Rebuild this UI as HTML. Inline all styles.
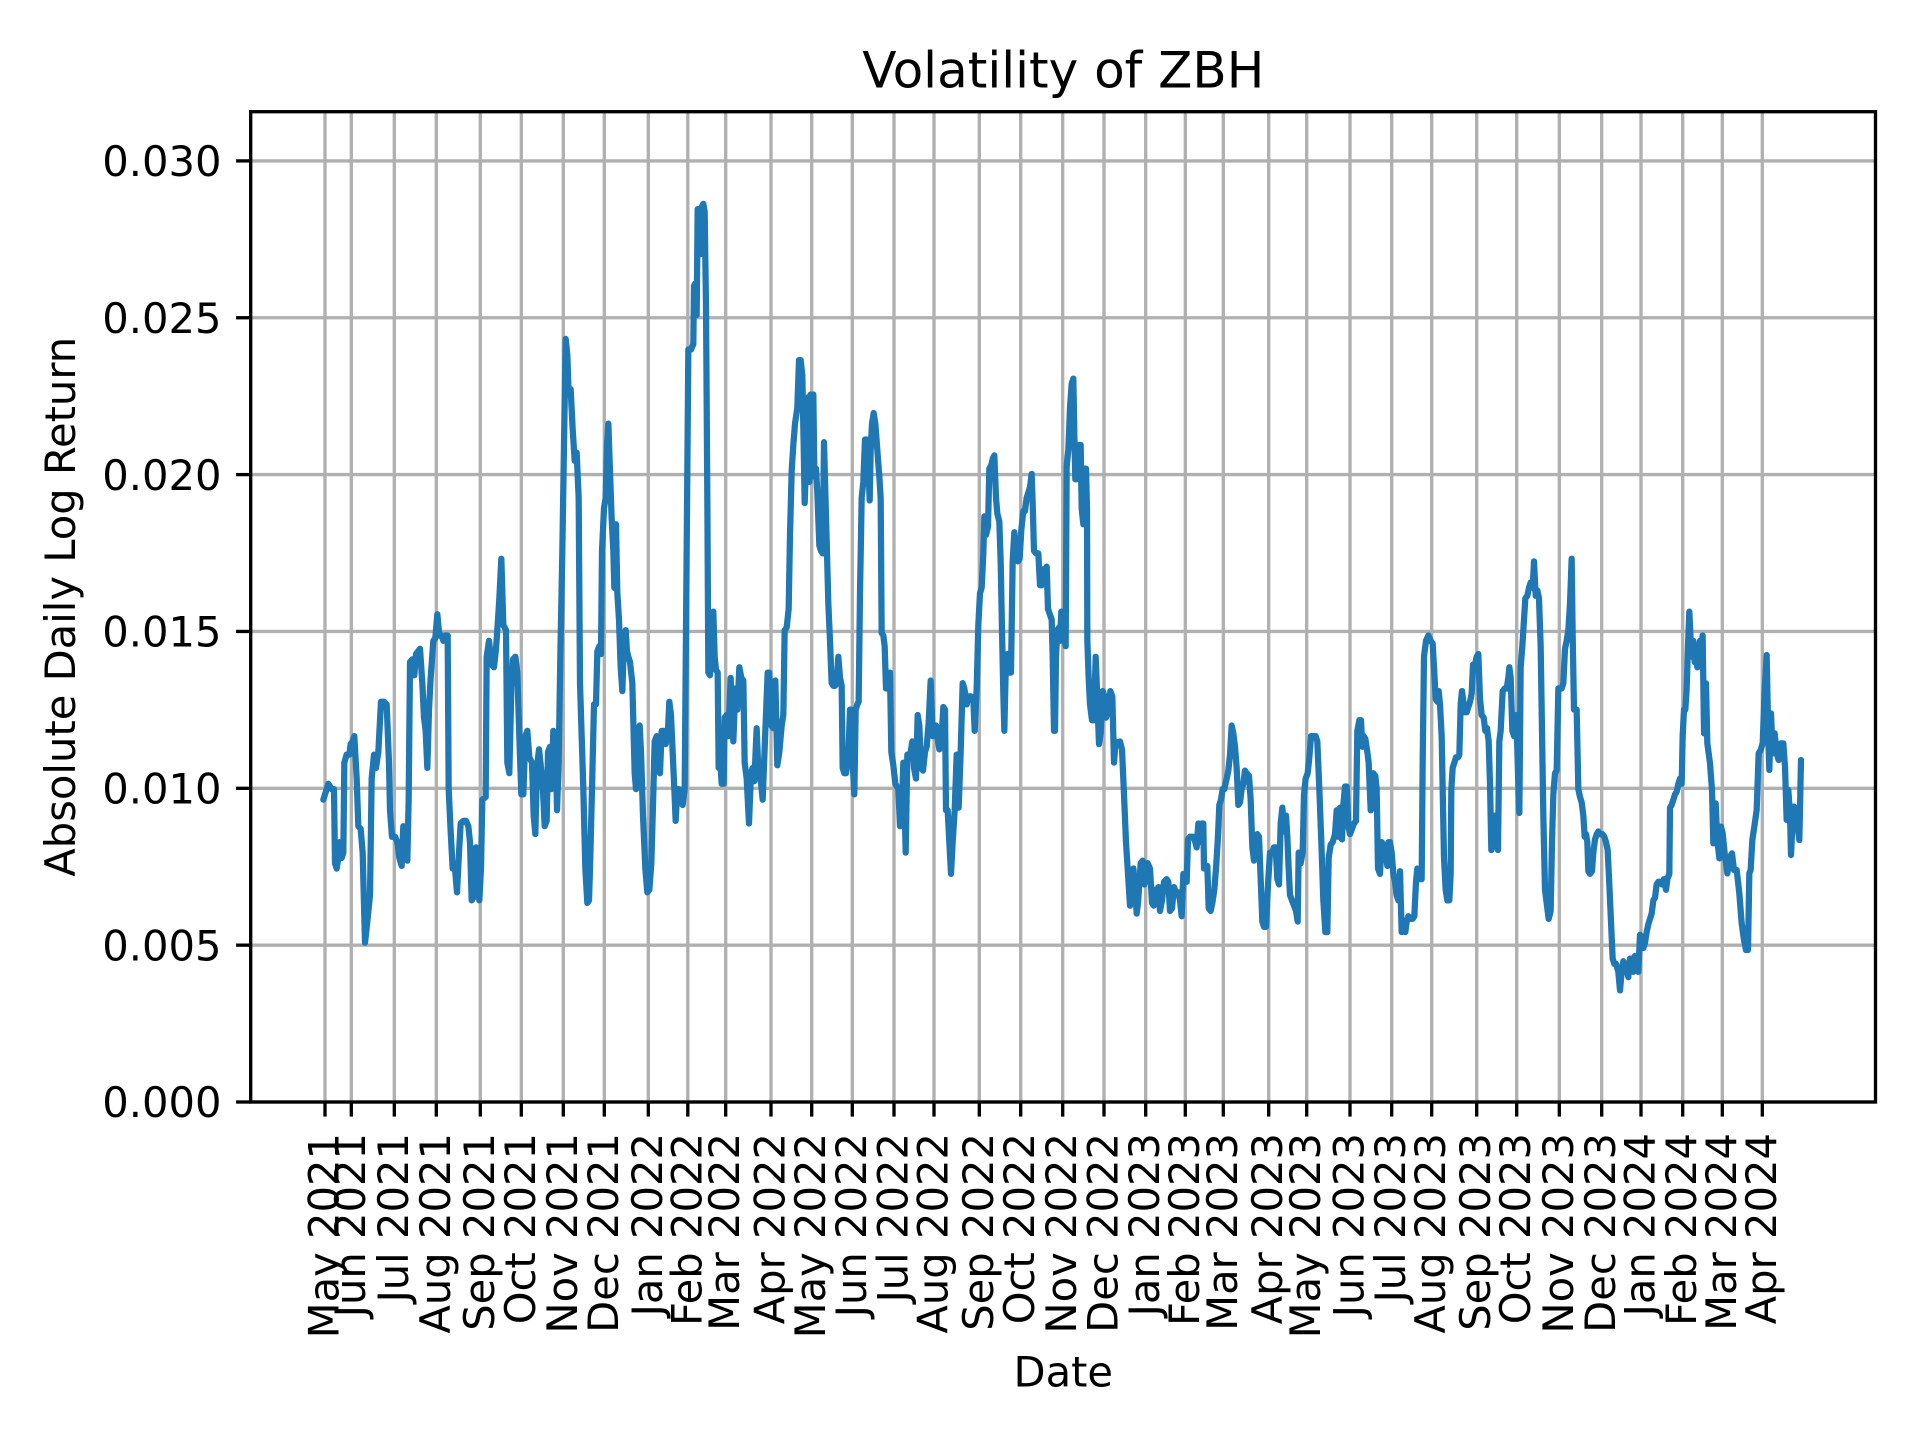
<!DOCTYPE html>
<html>
<head>
<meta charset="utf-8">
<style>
html,body{margin:0;padding:0;background:#fff;}
svg{display:block;}
text{font-family:"DejaVu Sans","Liberation Sans",sans-serif;fill:#000;}
.tl{font-size:41.67px;}
</style>
</head>
<body>
<svg width="1920" height="1440" viewBox="0 0 1920 1440" xmlns="http://www.w3.org/2000/svg">
<rect width="1920" height="1440" fill="#fff"/>

<!-- grid -->
<g stroke="#b0b0b0" stroke-width="3.33" fill="none">
<line x1="325" y1="111.7" x2="325" y2="1102"/>
<line x1="351.3" y1="111.7" x2="351.3" y2="1102"/>
<line x1="394.3" y1="111.7" x2="394.3" y2="1102"/>
<line x1="436.3" y1="111.7" x2="436.3" y2="1102"/>
<line x1="480.3" y1="111.7" x2="480.3" y2="1102"/>
<line x1="521.3" y1="111.7" x2="521.3" y2="1102"/>
<line x1="563.3" y1="111.7" x2="563.3" y2="1102"/>
<line x1="604.3" y1="111.7" x2="604.3" y2="1102"/>
<line x1="648.3" y1="111.7" x2="648.3" y2="1102"/>
<line x1="687.8" y1="111.7" x2="687.8" y2="1102"/>
<line x1="725.7" y1="111.7" x2="725.7" y2="1102"/>
<line x1="771" y1="111.7" x2="771" y2="1102"/>
<line x1="811.7" y1="111.7" x2="811.7" y2="1102"/>
<line x1="852.3" y1="111.7" x2="852.3" y2="1102"/>
<line x1="894" y1="111.7" x2="894" y2="1102"/>
<line x1="934" y1="111.7" x2="934" y2="1102"/>
<line x1="979.3" y1="111.7" x2="979.3" y2="1102"/>
<line x1="1020.7" y1="111.7" x2="1020.7" y2="1102"/>
<line x1="1062.7" y1="111.7" x2="1062.7" y2="1102"/>
<line x1="1104" y1="111.7" x2="1104" y2="1102"/>
<line x1="1145.7" y1="111.7" x2="1145.7" y2="1102"/>
<line x1="1185.3" y1="111.7" x2="1185.3" y2="1102"/>
<line x1="1223.3" y1="111.7" x2="1223.3" y2="1102"/>
<line x1="1268.7" y1="111.7" x2="1268.7" y2="1102"/>
<line x1="1306.7" y1="111.7" x2="1306.7" y2="1102"/>
<line x1="1350" y1="111.7" x2="1350" y2="1102"/>
<line x1="1391.7" y1="111.7" x2="1391.7" y2="1102"/>
<line x1="1431.7" y1="111.7" x2="1431.7" y2="1102"/>
<line x1="1476.7" y1="111.7" x2="1476.7" y2="1102"/>
<line x1="1516.7" y1="111.7" x2="1516.7" y2="1102"/>
<line x1="1559.3" y1="111.7" x2="1559.3" y2="1102"/>
<line x1="1601.7" y1="111.7" x2="1601.7" y2="1102"/>
<line x1="1641" y1="111.7" x2="1641" y2="1102"/>
<line x1="1682.7" y1="111.7" x2="1682.7" y2="1102"/>
<line x1="1722.3" y1="111.7" x2="1722.3" y2="1102"/>
<line x1="1762.3" y1="111.7" x2="1762.3" y2="1102"/>
<line x1="250.7" y1="1102" x2="1875.5" y2="1102"/>
<line x1="250.7" y1="945.15" x2="1875.5" y2="945.15"/>
<line x1="250.7" y1="788.3" x2="1875.5" y2="788.3"/>
<line x1="250.7" y1="631.45" x2="1875.5" y2="631.45"/>
<line x1="250.7" y1="474.6" x2="1875.5" y2="474.6"/>
<line x1="250.7" y1="317.75" x2="1875.5" y2="317.75"/>
<line x1="250.7" y1="160.9" x2="1875.5" y2="160.9"/>
</g>

<!-- data line -->
<g fill="none" stroke="#1f77b4" stroke-width="6.25" stroke-linejoin="round" stroke-linecap="round">
<g transform="translate(310,180) scale(0.333333,0.52966)">
<polyline vector-effect="non-scaling-stroke" points="40,1170 55,1140 65,1150 72,1150 75,1290 80,1300 85,1280 90,1250 95,1280 100,1270 103,1100 110,1085 118,1085 122,1065 128,1060 133,1050 140,1130 145,1220 152,1225 158,1270 165,1440 172,1400 180,1350 185,1130 192,1085 198,1110 205,1080 213,985 222,985 230,990 237,1100 240,1190 246,1240 255,1240 262,1250 268,1280 275,1295 280,1220 285,1280 292,1285 296,1170 300,910 307,905 313,935 318,895 324,890 330,885 337,950 342,1015 347,1040 352,1110 357,1000 362,940 370,870 376,865 382,820 388,860 395,860 400,870 406,860 413,860 416,1150 422,1230 428,1300 435,1300 441,1345 447,1270 452,1215 460,1210 468,1210 475,1220 480,1250 485,1360 490,1355 493,1270 498,1260 503,1300 508,1360 513,1300 517,1170 527,1165 530,900 537,870 545,915 552,920 558,885 564,830 568,790 574,715 580,840 588,850 592,1100 598,1120 604,960 609,905 616,900 622,930 628,1050 634,1160 640,1160 646,1050 652,1040 658,1090 666,1100 671,1200 676,1235 681,1110 687,1075 693,1110 698,1140 704,1220 710,1210 714,1080 720,1070 724,1150 730,1040 737,1050 741,1190 746,1100 751,900 757,700 762,500 767,300 772,330 776,405 782,395 788,470 794,530 800,515 806,600 810,950 815,1050 820,1150 826,1300 832,1365 837,1360 840,1300 846,1150 852,990 858,990 862,890 868,880 873,895 876,700 882,620 887,600 891,500 895,460 900,550 905,640 910,700 913,770 918,650 922,780 927,830 932,920 937,965 942,870 947,850 951,890 955,900 960,910 967,950 974,1120 978,1150 983,1100 989,1030 993,1080 999,1200 1006,1300 1012,1345 1018,1340 1024,1290 1029,1180 1034,1060 1040,1050 1045,1080 1050,1120 1055,1040 1060,1040 1067,1065 1073,1050 1078,985 1083,1010 1088,1080 1093,1150 1097,1210 1102,1150 1107,1150 1110,1170"/>
</g>
<g transform="translate(680,180) scale(0.333333,0.52966)">
<polyline vector-effect="non-scaling-stroke" points="0,1170 8,1180 14,1150 20,700 25,320 33,320 40,310 42,200 46,195 50,255 53,55 58,55 62,140 66,50 70,45 74,60 78,240 82,600 85,930 90,935 95,870 100,815 104,900 108,925 113,930 116,1110 120,1090 125,1140 131,1140 134,1015 140,1010 145,1050 152,940 156,1000 160,1060 166,960 172,1000 178,920 184,940 190,945 194,1100 200,1130 207,1215 213,1120 218,1110 223,1135 230,1035 236,1130 242,1130 248,1170 256,1040 263,930 268,930 274,1030 280,1035 286,945 292,1105 298,1080 305,1030 310,1010 314,850 320,845 326,810 330,670 335,550 340,500 345,460 352,430 357,340 362,340 367,370 371,500 374,610 378,540 381,420 385,410 388,570 392,405 396,560 400,405 403,550 408,545 412,590 418,690 423,700 428,705 432,495 436,590 440,680 445,800 450,870 455,950 460,955 465,955 470,950 475,900 480,940 485,955 488,1110 493,1120 498,1120 505,1090 510,1000 514,1000 518,1100 523,1160 527,1000 532,990 536,985 540,780 545,600 550,570 555,490 560,490 564,520 569,605 572,510 576,460 581,440 586,460 592,510 598,560 602,600 605,855 610,860 614,880 618,960 624,960 630,930 634,1080 640,1105 646,1140 655,1150 660,1220 664,1215 670,1100 675,1210 677,1270 682,1085 687,1085 692,1080 697,1060 702,1110 708,1130 713,1010 718,1030 723,1110 729,1115 735,1080 740,1070 746,1025 752,945 758,1050 762,1040 768,1030 773,1055 778,1075 784,1060 790,995 795,1000 798,1190 803,1190 808,1250 813,1310 818,1250 824,1190 830,1085 836,1185 842,1080 848,950 853,960 860,990 866,975 873,975 880,980 884,1040 890,960 895,840 900,780 905,770 910,705 913,635 918,670 924,655 928,545 933,540 939,525 943,520 948,600 952,630 958,645 962,720 966,850 970,970 973,1040 978,900 983,895 987,930 993,930 998,720 1003,665 1008,700 1014,720 1019,715 1024,660 1030,625 1035,625 1040,600 1045,590 1050,580 1055,555 1058,610 1062,700 1068,705 1075,705 1080,765 1085,765 1090,735 1095,735 1100,730 1104,810"/>
</g>
<g transform="translate(1050,180) scale(0.333333,0.52966)">
<polyline vector-effect="non-scaling-stroke" points="-6,810 5,830 8,900 12,1040 15,1040 18,900 22,850 27,845 30,870 34,815 38,820 42,860 47,880 50,540 55,510 60,430 65,385 70,375 73,480 76,565 80,565 84,520 88,500 92,500 95,620 100,650 104,545 108,545 111,620 112,870 116,940 120,990 126,1020 132,1020 137,900 142,980 147,1065 152,1045 158,965 163,975 168,1015 175,1000 181,965 187,975 192,1100 197,1060 203,1065 210,1060 216,1075 222,1160 228,1250 235,1320 240,1370 245,1360 250,1300 255,1330 260,1385 264,1365 268,1330 272,1290 278,1285 283,1330 288,1320 293,1290 300,1300 306,1365 311,1370 316,1340 320,1345 325,1335 330,1380 336,1360 342,1325 350,1320 355,1325 360,1380 366,1375 372,1335 378,1345 385,1345 390,1360 395,1390 400,1310 406,1310 410,1325 414,1245 420,1240 425,1240 430,1240 436,1250 440,1260 445,1215 450,1250 455,1215 460,1215 462,1300 466,1300 472,1295 476,1375 482,1380 487,1365 493,1340 498,1300 503,1250 508,1180 513,1170 518,1150 523,1150 530,1130 535,1115 540,1085 545,1030 550,1045 555,1070 560,1110 565,1180 570,1175 575,1150 580,1140 585,1115 590,1120 597,1125 602,1170 607,1260 612,1285 617,1280 622,1235 627,1240 632,1320 637,1400 642,1410 648,1410 654,1330 660,1270 666,1270 672,1260 677,1260 682,1320 687,1330 692,1215 697,1185 702,1230 708,1200 712,1240 716,1300 720,1350 726,1360 732,1370 738,1380 743,1400 746,1270 752,1290 758,1270 762,1160 767,1130 773,1120 778,1090 783,1050 790,1050 797,1050 802,1060 808,1150 814,1250 820,1360 826,1420 832,1420 836,1280 842,1255 848,1250 855,1235 860,1190 865,1240 870,1185 876,1245 880,1180 885,1145 890,1145 895,1220 900,1235 906,1225 912,1215 918,1210 922,1040 928,1020 933,1020 937,1070 941,1050 946,1055 952,1080 956,1100 962,1190 966,1185 970,1120 976,1125 980,1150 984,1300 990,1310 995,1250 1000,1255 1006,1265 1012,1295 1016,1250 1020,1250 1025,1270 1030,1310 1035,1325 1040,1350 1045,1360 1050,1305 1055,1420 1060,1415 1066,1420 1070,1400 1075,1390 1082,1395 1088,1395 1093,1390 1098,1325 1102,1300 1108,1320 1110,1320"/>
</g>
<g transform="translate(1420,180) scale(0.333333,0.52966)">
<polyline vector-effect="non-scaling-stroke" points="0,1320 5,1320 8,1100 12,900 18,870 25,860 32,870 38,875 42,920 47,980 52,985 56,965 60,990 65,1050 68,1150 72,1280 77,1340 82,1360 88,1360 92,1310 94,1150 98,1110 103,1100 108,1090 114,1090 118,1085 122,990 126,965 130,985 135,1005 140,1005 145,995 150,985 155,970 159,915 165,915 170,900 175,895 180,980 185,1010 191,1015 196,1040 201,1035 206,1060 210,1140 214,1265 220,1250 224,1200 230,1210 234,1265 238,1060 242,1040 248,965 254,960 260,960 265,940 268,920 272,940 277,1040 282,1050 286,1010 290,1030 294,1120 298,1195 302,920 307,880 312,830 316,790 322,785 327,770 332,760 338,770 342,720 347,785 352,775 357,790 362,880 365,1000 370,1200 375,1340 380,1365 386,1395 392,1380 396,1250 400,1160 405,1120 410,1115 415,960 420,960 425,960 430,950 435,885 440,870 445,850 450,800 455,715 458,860 462,1000 466,1000 470,1000 475,1150 480,1165 485,1175 490,1200 494,1240 498,1235 502,1250 505,1305 510,1310 516,1305 520,1270 525,1245 530,1235 535,1230 540,1235 547,1235 553,1240 558,1250 563,1265 568,1330 573,1400 578,1470 583,1480 588,1480 595,1495 600,1530 605,1495 610,1475 615,1480 620,1490 625,1505 630,1470 635,1470 640,1495 645,1465 650,1475 655,1495 660,1425 666,1430 670,1450 675,1440 680,1420 685,1405 690,1395 695,1385 700,1360 705,1355 710,1330 715,1325 720,1325 726,1330 732,1320 738,1340 742,1320 748,1310 750,1185 755,1180 760,1170 765,1160 770,1155 775,1140 780,1130 785,1140 788,1050 792,1000 796,1000 800,960 804,880 808,815 812,870 816,900 820,870 824,910 828,900 832,920 836,890 840,870 844,900 848,860 852,1040"/>
</g>
<g transform="translate(1690,640) scale(0.333333,0.333333)">
<polyline vector-effect="non-scaling-stroke" points="42,280 48,130 52,310 60,370 66,450 70,610 77,490 82,600 88,655 93,560 98,580 104,640 112,700 120,650 126,640 132,690 140,690 148,760 155,850 162,900 168,930 174,930 178,700 182,690 187,600 193,560 200,510 206,340 212,330 218,310 224,150 230,45 235,300 238,390 243,220 248,340 254,280 260,340 266,360 272,310 280,310 285,380 290,540 295,450 300,520 303,645 307,560 312,500 318,510 323,560 328,600 333,360"/>
</g>
</g>

<!-- spines -->
<rect x="250.7" y="111.7" width="1624.8" height="990.3" fill="none" stroke="#000" stroke-width="3.33" stroke-linejoin="miter"/>

<!-- ticks -->
<g stroke="#000" stroke-width="3.33">
<line x1="325" y1="1102" x2="325" y2="1116.6"/>
<line x1="351.3" y1="1102" x2="351.3" y2="1116.6"/>
<line x1="394.3" y1="1102" x2="394.3" y2="1116.6"/>
<line x1="436.3" y1="1102" x2="436.3" y2="1116.6"/>
<line x1="480.3" y1="1102" x2="480.3" y2="1116.6"/>
<line x1="521.3" y1="1102" x2="521.3" y2="1116.6"/>
<line x1="563.3" y1="1102" x2="563.3" y2="1116.6"/>
<line x1="604.3" y1="1102" x2="604.3" y2="1116.6"/>
<line x1="648.3" y1="1102" x2="648.3" y2="1116.6"/>
<line x1="687.8" y1="1102" x2="687.8" y2="1116.6"/>
<line x1="725.7" y1="1102" x2="725.7" y2="1116.6"/>
<line x1="771" y1="1102" x2="771" y2="1116.6"/>
<line x1="811.7" y1="1102" x2="811.7" y2="1116.6"/>
<line x1="852.3" y1="1102" x2="852.3" y2="1116.6"/>
<line x1="894" y1="1102" x2="894" y2="1116.6"/>
<line x1="934" y1="1102" x2="934" y2="1116.6"/>
<line x1="979.3" y1="1102" x2="979.3" y2="1116.6"/>
<line x1="1020.7" y1="1102" x2="1020.7" y2="1116.6"/>
<line x1="1062.7" y1="1102" x2="1062.7" y2="1116.6"/>
<line x1="1104" y1="1102" x2="1104" y2="1116.6"/>
<line x1="1145.7" y1="1102" x2="1145.7" y2="1116.6"/>
<line x1="1185.3" y1="1102" x2="1185.3" y2="1116.6"/>
<line x1="1223.3" y1="1102" x2="1223.3" y2="1116.6"/>
<line x1="1268.7" y1="1102" x2="1268.7" y2="1116.6"/>
<line x1="1306.7" y1="1102" x2="1306.7" y2="1116.6"/>
<line x1="1350" y1="1102" x2="1350" y2="1116.6"/>
<line x1="1391.7" y1="1102" x2="1391.7" y2="1116.6"/>
<line x1="1431.7" y1="1102" x2="1431.7" y2="1116.6"/>
<line x1="1476.7" y1="1102" x2="1476.7" y2="1116.6"/>
<line x1="1516.7" y1="1102" x2="1516.7" y2="1116.6"/>
<line x1="1559.3" y1="1102" x2="1559.3" y2="1116.6"/>
<line x1="1601.7" y1="1102" x2="1601.7" y2="1116.6"/>
<line x1="1641" y1="1102" x2="1641" y2="1116.6"/>
<line x1="1682.7" y1="1102" x2="1682.7" y2="1116.6"/>
<line x1="1722.3" y1="1102" x2="1722.3" y2="1116.6"/>
<line x1="1762.3" y1="1102" x2="1762.3" y2="1116.6"/>
<line x1="236.1" y1="1102" x2="250.7" y2="1102"/>
<line x1="236.1" y1="945.15" x2="250.7" y2="945.15"/>
<line x1="236.1" y1="788.3" x2="250.7" y2="788.3"/>
<line x1="236.1" y1="631.45" x2="250.7" y2="631.45"/>
<line x1="236.1" y1="474.6" x2="250.7" y2="474.6"/>
<line x1="236.1" y1="317.75" x2="250.7" y2="317.75"/>
<line x1="236.1" y1="160.9" x2="250.7" y2="160.9"/>
</g>

<!-- y tick labels -->
<g class="tl" text-anchor="end">
<text x="221.5" y="1117.2">0.000</text>
<text x="221.5" y="960.35">0.005</text>
<text x="221.5" y="803.5">0.010</text>
<text x="221.5" y="646.65">0.015</text>
<text x="221.5" y="489.8">0.020</text>
<text x="221.5" y="332.95">0.025</text>
<text x="221.5" y="176.1">0.030</text>
</g>

<!-- x tick labels -->
<g class="tl" text-anchor="end">
<text transform="translate(338.5,1133) rotate(-90)">May 2021</text>
<text transform="translate(364.8,1133) rotate(-90)">Jun 2021</text>
<text transform="translate(407.8,1133) rotate(-90)">Jul 2021</text>
<text transform="translate(449.8,1133) rotate(-90)">Aug 2021</text>
<text transform="translate(493.8,1133) rotate(-90)">Sep 2021</text>
<text transform="translate(534.8,1133) rotate(-90)">Oct 2021</text>
<text transform="translate(576.8,1133) rotate(-90)">Nov 2021</text>
<text transform="translate(617.8,1133) rotate(-90)">Dec 2021</text>
<text transform="translate(661.8,1133) rotate(-90)">Jan 2022</text>
<text transform="translate(701.3,1133) rotate(-90)">Feb 2022</text>
<text transform="translate(739.2,1133) rotate(-90)">Mar 2022</text>
<text transform="translate(784.5,1133) rotate(-90)">Apr 2022</text>
<text transform="translate(825.2,1133) rotate(-90)">May 2022</text>
<text transform="translate(865.8,1133) rotate(-90)">Jun 2022</text>
<text transform="translate(907.5,1133) rotate(-90)">Jul 2022</text>
<text transform="translate(947.5,1133) rotate(-90)">Aug 2022</text>
<text transform="translate(992.8,1133) rotate(-90)">Sep 2022</text>
<text transform="translate(1034.2,1133) rotate(-90)">Oct 2022</text>
<text transform="translate(1076.2,1133) rotate(-90)">Nov 2022</text>
<text transform="translate(1117.5,1133) rotate(-90)">Dec 2022</text>
<text transform="translate(1159.2,1133) rotate(-90)">Jan 2023</text>
<text transform="translate(1198.8,1133) rotate(-90)">Feb 2023</text>
<text transform="translate(1236.8,1133) rotate(-90)">Mar 2023</text>
<text transform="translate(1282.2,1133) rotate(-90)">Apr 2023</text>
<text transform="translate(1320.2,1133) rotate(-90)">May 2023</text>
<text transform="translate(1363.5,1133) rotate(-90)">Jun 2023</text>
<text transform="translate(1405.2,1133) rotate(-90)">Jul 2023</text>
<text transform="translate(1445.2,1133) rotate(-90)">Aug 2023</text>
<text transform="translate(1490.2,1133) rotate(-90)">Sep 2023</text>
<text transform="translate(1530.2,1133) rotate(-90)">Oct 2023</text>
<text transform="translate(1572.8,1133) rotate(-90)">Nov 2023</text>
<text transform="translate(1615.2,1133) rotate(-90)">Dec 2023</text>
<text transform="translate(1654.5,1133) rotate(-90)">Jan 2024</text>
<text transform="translate(1696.2,1133) rotate(-90)">Feb 2024</text>
<text transform="translate(1735.8,1133) rotate(-90)">Mar 2024</text>
<text transform="translate(1775.8,1133) rotate(-90)">Apr 2024</text>
</g>

<!-- axis labels and title -->
<text x="1063.3" y="1386.7" text-anchor="middle" class="tl">Date</text>
<text transform="translate(75,606.8) rotate(-90)" text-anchor="middle" class="tl">Absolute Daily Log Return</text>
<text x="1063.3" y="87.3" text-anchor="middle" style="font-size:50px">Volatility of ZBH</text>
</svg>
</body>
</html>
